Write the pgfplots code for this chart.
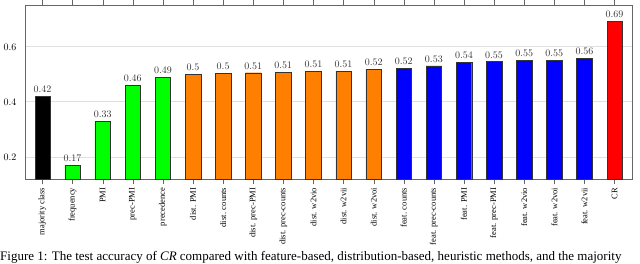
\documentclass[border=0pt]{standalone}
\usepackage{fontspec}
\setmainfont{Liberation Serif}
\usepackage{pgfplots}
\pgfplotsset{compat=1.18}
\begin{document}
\begin{tikzpicture}
\begin{axis}[
  at={(25pt,84.7pt)}, anchor=south west,
  scale only axis, width=607pt, height=173.8pt,
  xmin=-0.58, xmax=19.58, ymin=0.119, ymax=0.75,
  ybar, bar width=15.5pt,
  xtick={0,...,19},
  xticklabels={majority class, frequency, PMI, prec-PMI, precedence, dist. PMI, dist. counts, dist. prec-PMI, dist. prec-counts, dist. w2vio, dist. w2vii, dist. w2voi, feat. counts, feat. prec-counts, feat. PMI, feat. prec-PMI, feat. w2vio, feat. w2voi, feat. w2vii, CR},
  x tick label style={rotate=90, anchor=east, font=\fontsize{8.5}{10}\selectfont},
  y tick label style={font=\fontsize{10}{12}\selectfont},
  ytick={0.2,0.4,0.6},
  tick align=outside, major tick length=5pt,
  xtick style={draw=black!60},
  ytick style={draw=none},
  ymajorgrids, grid style={black!12, line width=0.8pt},
  axis line style={black!60, line width=0.8pt},
  /pgf/number format/.cd, fixed, precision=2,
]
\pgfplotsset{every node near coord/.append style={font=\fontsize{10}{12}\selectfont, black!80}}
\addplot[ybar, bar shift=0pt, fill=black, draw=black!80, nodes near coords] coordinates {(0,0.422)};
\addplot[ybar, bar shift=0pt, fill=green, draw=black!80, nodes near coords] coordinates {(1,0.170) (2,0.330) (3,0.460) (4,0.490)};
\addplot[ybar, bar shift=0pt, fill=orange, draw=black!80, nodes near coords] coordinates {(5,0.500) (6,0.504) (7,0.506) (8,0.508) (9,0.512) (10,0.512) (11,0.519)};
\addplot[ybar, bar shift=0pt, fill=blue, draw=black!80, nodes near coords] coordinates {(12,0.522) (13,0.531) (14,0.543) (15,0.546) (16,0.551) (17,0.551) (18,0.558)};
\addplot[ybar, bar shift=0pt, fill=red, draw=black!80, nodes near coords] coordinates {(19,0.692)};
\end{axis}
\node[anchor=base west, inner sep=0pt, font=\fontsize{13}{15}\selectfont] at (0pt,3.4pt) {Figure 1: The test accuracy of \textit{CR} compared with feature-based, distribution-based, heuristic methods, and the majority};
\pgfresetboundingbox
\useasboundingbox (0pt,0pt) rectangle (640pt,264pt);
\end{tikzpicture}
\end{document}
